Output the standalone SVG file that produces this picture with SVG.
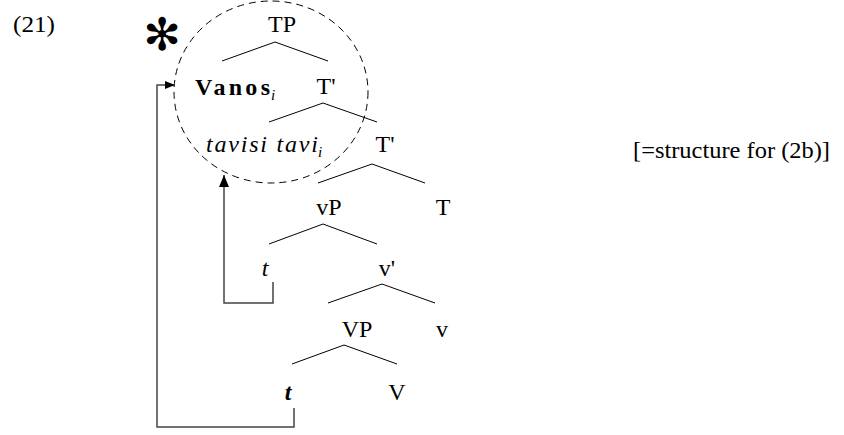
<svg xmlns="http://www.w3.org/2000/svg" width="844" height="435" viewBox="0 0 844 435">
<style>
text { font-family: "Liberation Serif", "Times New Roman", serif; font-size: 24px; fill: #000; }
.b { font-weight: bold; }
.it { font-style: italic; }
.sub { font-size: 15px; font-style: italic; }
.tree line { stroke: #000; stroke-width: 1; }
.conn path { fill: none; stroke: #444; stroke-width: 1.5; }
.circ { fill: none; stroke: #000; stroke-width: 1; stroke-dasharray: 7 5; }
.star { font-family: "DejaVu Sans", sans-serif; font-size: 45px; }
</style>
<defs>
<marker id="ahS" markerUnits="userSpaceOnUse" markerWidth="10" markerHeight="8" refX="10" refY="4" orient="auto">
<path d="M0,0 L10,4 L0,8 z" fill="#000"/>
</marker>
<marker id="ahL" markerUnits="userSpaceOnUse" markerWidth="12" markerHeight="10" refX="12" refY="5" orient="auto">
<path d="M0,0 L12,5 L0,10 z" fill="#000"/>
</marker>
</defs>
<rect width="844" height="435" fill="#fff"/>
<text id="exnum" x="13" y="32" textLength="42" lengthAdjust="spacingAndGlyphs">(21)</text>
<text id="star" class="star" x="162" y="50" text-anchor="middle">✻</text>
<text id="note" x="633" y="158" textLength="197" lengthAdjust="spacingAndGlyphs">[=structure for (2b)]</text>
<ellipse id="circle" class="circ" cx="271" cy="92" rx="97" ry="91"/>
<g class="tree" id="branches">
<line x1="222" y1="61" x2="275" y2="42"/><line x1="275" y1="42" x2="328" y2="61"/>
<line x1="269" y1="122" x2="323" y2="103"/><line x1="323" y1="103" x2="377" y2="122"/>
<line x1="318" y1="183" x2="372" y2="164"/><line x1="372" y1="164" x2="425" y2="183"/>
<line x1="269" y1="244" x2="323" y2="224"/><line x1="323" y1="224" x2="377" y2="244"/>
<line x1="328" y1="303" x2="382" y2="284"/><line x1="382" y1="284" x2="435" y2="303"/>
<line x1="292" y1="364" x2="344" y2="345"/><line x1="344" y1="345" x2="397" y2="364"/>
</g>
<g id="TP"><text x="282" y="32" text-anchor="middle">TP</text></g>
<g id="Vanos"><text class="b" x="195" y="95" textLength="75" lengthAdjust="spacing">Vanos</text><text class="sub" x="271" y="100">i</text></g>
<g id="Tbar1"><text x="326" y="94" text-anchor="middle">T'</text></g>
<g id="tavisi"><text class="it" x="206" y="152" textLength="112" lengthAdjust="spacing">tavisi tavi</text><text class="sub" x="318" y="157">i</text></g>
<g id="Tbar2"><text x="385" y="152" text-anchor="middle">T'</text></g>
<g id="vP"><text x="329" y="215" text-anchor="middle">vP</text></g>
<g id="T"><text x="443" y="215" text-anchor="middle">T</text></g>
<g id="t1"><text class="it" x="265" y="276" text-anchor="middle">t</text></g>
<g id="vbar"><text x="387" y="276" text-anchor="middle">v'</text></g>
<g id="VP"><text x="357" y="337" text-anchor="middle">VP</text></g>
<g id="v"><text x="442" y="337" text-anchor="middle">v</text></g>
<g id="t2"><text class="b it" x="288" y="400" text-anchor="middle">t</text></g>
<g id="V"><text x="397" y="400" text-anchor="middle">V</text></g>
<g class="conn" id="connectors">
<path d="M294,408 V427 H157 V85 H175" marker-end="url(#ahS)"/>
<path d="M273,282 V303 H224 V175" marker-end="url(#ahL)"/>
</g>
</svg>
